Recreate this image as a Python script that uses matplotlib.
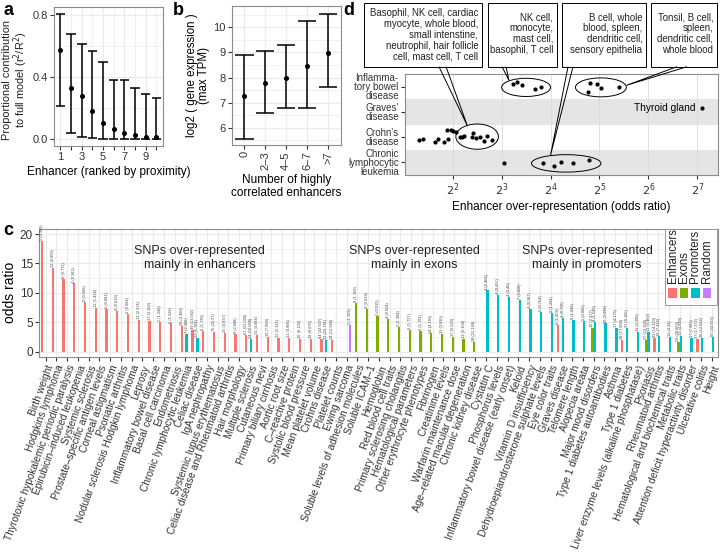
import numpy as np
import matplotlib.pyplot as plt
from matplotlib.patches import Ellipse, Rectangle, Polygon

plt.rcParams['font.family'] = ['Liberation Sans', 'DejaVu Sans']

# ---- panel a: contribution of enhancers ranked by proximity
rank = [1, 2, 3, 4, 5, 6, 7, 8, 9, 10]
contrib_mid = [0.574, 0.332, 0.280, 0.184, 0.105, 0.068, 0.038, 0.026, 0.017, 0.015]
contrib_low = [0.214, 0.043, 0.013, 0.006, 0.004, 0.001, 0.001, 0.001, 0.001, 0.001]
contrib_high = [0.806, 0.679, 0.615, 0.570, 0.495, 0.381, 0.383, 0.332, 0.289, 0.268]

# ---- panel b: expression vs number of correlated enhancers
n_groups = ['0', '2–3', '4–5', '6–7', '>7']
expr_mid = [7.26, 7.80, 7.99, 8.47, 8.97]
expr_low = [5.54, 6.60, 6.80, 6.77, 7.62]
expr_high = [8.91, 9.07, 9.30, 10.26, 10.53]

# ---- panel c: traits and odds ratios
traits = ['Birth weight', 'Hodgkins lymphoma', 'Thyrotoxic hypokalemic periodic paralysis',
          'Epirubicin–induced leukopenia', 'Systemic sclerosis', 'Prostate–specific antigen levels',
          'Corneal astigmatism', 'Psoriatic arthritis', 'Nodular sclerosis Hodgkin lymphoma',
          'Leprosy', 'Inflammatory bowel disease', 'Basal cell carcinoma', 'Endometriosis',
          'Chronic lymphocytic leukemia', 'Celiac disease', 'IgA nephropathy',
          'Systemic lupus erythematosus', 'Celiac disease and Rheumatoid arthritis',
          'Hair morphology', 'Multiple sclerosis', 'Cutaneous nevi', 'Primary biliary cirrhosis',
          'Aortic root size', 'C–reactive protein', 'Systolic blood pressure',
          'Mean platelet volume', 'Crohns disease', 'Platelet counts', 'Ewing sarcoma',
          'Soluble levels of adhesion molecules', 'Soluble ICAM–1', 'Hemoglobin',
          'Red blood cell traits', 'Primary sclerosing cholangitis', 'Hematological parameters',
          'Other erythrocyte phenotypes', 'Fibrinogen', 'Creatinine levels',
          'Warfarin maintenance dose', 'Age–related macular degeneration', 'Chronic kidney disease',
          'Cystatin C', 'Phosphorus levels', 'Inflammatory bowel disease (early onset)', 'Keloid',
          'Vitamin D insufficiency', 'Dehydroepiandrosterone sulphate levels', 'Eye color traits',
          'Graves disease', 'Telomere length', 'Alopecia areata', 'Major mood disorders',
          'Type 1 diabetes autoantibodies', 'Asthma', 'Type 1 diabetes',
          'Liver enzyme levels (alkaline phosphatase)', 'Psoriasis', 'Rheumatoid arthritis',
          'Hematological and biochemical traits', 'Metabolic traits',
          'Attention deficit hyperactivity disorder', 'Ulcerative colitis', 'Height']

enh_traits = traits[:28] + ['Graves disease', 'Type 1 diabetes', 'Rheumatoid arthritis', 'Ulcerative colitis']
enh_or = [18.8, 14.3, 12.3, 11.6, 8.5, 7.5, 7.3, 6.9, 6.4, 5.4, 5.3, 5.1, 4.8, 4.4, 3.7, 3.6,
          3.3, 3.2, 3.0, 2.9, 2.8, 2.55, 2.4, 2.35, 2.2, 2.15, 2.1, 2.0,
          4.5, 2.0, 2.4, 2.1]
enh_txt = ['5 (0.309)', '12 (0.859)', '6 (0.773)', '4 (0.361)', '9 (0.966)', '11 (1.418)',
           '5 (0.681)', '4 (0.616)', '6 (0.964)', '13 (2.374)', '17 (3.162)', '5 (1.248)',
           '6 (1.328)', '20 (4.480)', '49 (13.082)', '6 (1.736)', '75 (22.37)', '15 (4.837)',
           '9 (2.888)', '61 (21.326)', '11 (4.084)', '19 (7.968)', '12 (5.121)', '11 (4.806)',
           '16 (8.120)', '19 (8.675)', '64 (32.607)', '34 (13.946)',
           '6 (1.458)', '38 (17.868)', '33 (14.423)', '37 (17.372)']

exo_traits = traits[29:41] + ['Major mood disorders', 'Psoriasis', 'Metabolic traits']
exo_or = [8.3, 7.2, 6.1, 5.5, 4.25, 3.7, 3.57, 3.1, 3.0, 2.45, 2.2, 1.7, 4.0, 2.0, 1.7]
exo_txt = ['9 (1.109)', '4 (0.616)', '5 (0.915)', '4 (0.824)', '5 (1.384)', '6 (1.727)',
           '6 (1.781)', '14 (4.165)', '12 (3.830)', '17 (6.623)', '13 (6.104)', '28 (15.149)',
           '10 (2.477)', '27 (13.368)', '50 (28.683)']

pro_traits = ['Chronic lymphocytic leukemia', 'Celiac disease', 'Multiple sclerosis',
              'Crohns disease'] + traits[41:]
pro_or = [3.0, 2.3, 2.2, 2.0, 10.4, 9.6, 9.35, 8.8, 7.2, 6.8, 6.6, 5.7, 5.4, 5.3, 5.0, 4.8,
          4.1, 4.0, 3.4, 3.3, 2.6, 2.55, 2.7, 2.4, 2.4, 2.5]
pro_txt = ['7 (2.306)', '13 (5.704)', '24 (10.968)', '32 (16.781)', '4 (0.404)', '4 (0.437)',
           '4 (0.46)', '7 (0.820)', '4 (0.587)', '5 (0.754)', '8 (1.204)', '4 (0.729)',
           '9 (1.688)', '5 (0.966)', '8 (1.546)', '15 (3.096)', '17 (4.175)', '37 (9.185)',
           '11 (3.296)', '11 (3.462)', '19 (7.416)', '11 (4.33)', '13 (4.849)', '17 (7.883)',
           '30 (12.822)', '87 (34.655)']

rnd_traits = ['Ewing sarcoma']
rnd_or = [4.5]
rnd_txt = ['5 (1.193)']

groups = ['Enhancers', 'Exons', 'Promoters', 'Random']
group_colors = ['#F8766D', '#7CAE00', '#00BFC4', '#C77CFF']

# ---- panel d: odds ratios (log2) for tissue enhancers per disease
d_rows = ['Chronic\nlymphocytic\nleukemia', "Crohn's\ndisease", "Graves'\ndisease",
          'Inflamma-\ntory bowel\ndisease']
ibd_x = [3.24, 3.31, 3.41, 3.68, 3.80, 4.77, 4.81, 4.96, 5.03, 5.41]
ibd_y = [4.09, 4.18, 4.08, 3.92, 4.00, 3.80, 4.13, 4.09, 3.95, 3.98]
graves_x = [7.09]
graves_y = [3.14]
crohn_x = [1.31, 1.39, 1.63, 1.70, 1.83, 1.90, 1.89, 1.97, 2.01, 2.07, 2.14, 2.20, 2.23,
           2.39, 2.41, 2.47, 2.56, 2.63, 2.70, 2.81]
crohn_y = [1.89, 1.93, 1.79, 1.94, 1.82, 1.94, 2.27, 2.28, 2.24, 2.20, 2.02, 2.02, 2.04,
           2.02, 2.18, 1.98, 1.99, 1.85, 2.06, 1.87]
cll_x = [3.04, 3.85, 4.08, 4.21, 4.45, 4.79]
cll_y = [0.99, 0.99, 0.87, 1.00, 0.98, 1.09]

callouts = ['Basophil, NK cell, cardiac\nmyocyte, whole blood,\nsmall intenstine,\nneutrophil, hair follicle\ncell, mast cell, T cell',
            'NK cell,\nmonocyte,\nmast cell,\nbasophil, T cell',
            'B cell, whole\nblood, spleen,\ndendritic cell,\nsensory epithelia',
            'Tonsil, B cell,\nspleen,\ndendritic cell,\nwhole blood']
# ellipse (centre x, centre y, width, height) in panel d data units
rings = [(2.50, 2.02, 0.87, 1.0), (3.50, 3.97, 1.0, 0.72), (5.03, 3.97, 1.04, 0.75),
         (4.32, 0.96, 1.42, 0.69)]

W, H = 720, 557
fig = plt.figure(figsize=(7.2, 5.57), dpi=100)

grid_c = '#EBEBEB'
border_c = '#8C8C8C'
tick_c = '#333333'


def px_axes(l, t, r, b):
    return fig.add_axes([l / W, 1 - b / H, (r - l) / W, (b - t) / H])


def style(ax):
    for s in ax.spines.values():
        s.set_color(border_c)
        s.set_linewidth(0.8)
    ax.tick_params(colors=tick_c, labelcolor=tick_c, length=3, width=0.8, pad=1.5)
    ax.set_axisbelow(True)


# panel a
ax = px_axes(54, 6.7, 162.7, 146)
style(ax)
ax.set_xlim(0.4, 10.6)
ax.set_ylim(-0.043, 0.853)
for v in [0.2, 0.6]:
    ax.axhline(v, color=grid_c, lw=0.5, zorder=0)
for v in [0, 0.4, 0.8]:
    ax.axhline(v, color=grid_c, lw=0.9, zorder=0)
for v in rank:
    ax.axvline(v, color=grid_c, lw=0.9 if v % 2 else 0.5, zorder=0)
ax.vlines(rank, contrib_low, contrib_high, color='black', lw=1.1)
ax.hlines(contrib_low, np.array(rank) - 0.45, np.array(rank) + 0.45, color='black', lw=1.1)
ax.hlines(contrib_high, np.array(rank) - 0.45, np.array(rank) + 0.45, color='black', lw=1.1)
ax.plot(rank, contrib_mid, 'o', color='black', ms=2.6)
ax.set_xticks(rank)
ax.set_xticklabels([str(r) if r % 2 else '' for r in rank], fontsize=8)
ax.set_yticks([0, 0.4, 0.8])
ax.set_yticklabels(['0.0', '0.4', '0.8'], fontsize=8)
ax.set_xlabel('Enhancer (ranked by proximity)', fontsize=8.5, labelpad=3)
fig.text(1.5 / W, 1 - 80 / H, 'Proportional contribution\nto full model (r$^2$/R$^2$)',
         fontsize=7.9, rotation=90, ha='left', va='center', multialignment='center',
         linespacing=1.0, color='#222222')

# panel b
ax = px_axes(231.7, 6, 340.7, 145)
style(ax)
xb = np.arange(len(n_groups))
ax.set_xlim(-0.6, 4.6)
ax.set_ylim(5.31, 10.85)
for v in [5.5, 6.5, 7.5, 8.5, 9.5, 10.5]:
    ax.axhline(v, color=grid_c, lw=0.5, zorder=0)
for v in [6, 7, 8, 9, 10]:
    ax.axhline(v, color=grid_c, lw=0.9, zorder=0)
for v in xb:
    ax.axvline(v, color=grid_c, lw=0.9, zorder=0)
ax.vlines(xb, expr_low, expr_high, color='black', lw=1.1)
ax.hlines(expr_low, xb - 0.44, xb + 0.44, color='black', lw=1.1)
ax.hlines(expr_high, xb - 0.44, xb + 0.44, color='black', lw=1.1)
ax.plot(xb, expr_mid, 'o', color='black', ms=2.6)
ax.set_xticks(xb)
ax.set_xticklabels(n_groups, rotation=90, fontsize=8)
ax.set_yticks([6, 7, 8, 9, 10])
ax.set_yticklabels(['6', '7', '8', '9', '10'], fontsize=8)
ax.set_xlabel('Number of highly\ncorrelated enhancers', fontsize=8.5, labelpad=3, linespacing=1.1)
ax.set_ylabel('log2 ( gene expression )\n(max TPM)', fontsize=8.3, labelpad=2, linespacing=1.05)

# panel c
ax = px_axes(39.3, 229, 718.3, 356.7)
style(ax)
ax.set_xlim(-0.6, len(traits) - 0.4)
ax.set_ylim(-0.85, 20.85)
for v in np.arange(2.5, 20, 5):
    ax.axhline(v, color=grid_c, lw=0.5, zorder=0)
for v in range(0, 21, 5):
    ax.axhline(v, color=grid_c, lw=0.9, zorder=0)
for v in range(len(traits)):
    ax.axvline(v, color=grid_c, lw=0.9, zorder=0)
slot = 0.9 / 4
offs = [-1.5 * slot, -0.5 * slot, 0.5 * slot, 1.5 * slot]
for g, (tr, vals, txt) in enumerate([(enh_traits, enh_or, enh_txt), (exo_traits, exo_or, exo_txt),
                                      (pro_traits, pro_or, pro_txt), (rnd_traits, rnd_or, rnd_txt)]):
    xs = np.array([traits.index(t) for t in tr]) + offs[g]
    ax.bar(xs, vals, width=slot * 0.95, color=group_colors[g], zorder=2)
    for x, v, s in zip(xs, vals, txt):
        ax.text(x, v + 0.15, s, rotation=90, fontsize=2.8, ha='center', va='bottom',
                color='#444444', zorder=3)
ax.set_xticks(range(len(traits)))
ax.set_xticklabels(traits, rotation=70, ha='right', rotation_mode='anchor', fontsize=7.3)
ax.tick_params(axis='x', pad=2)
ax.set_yticks([0, 5, 10, 15, 20])
ax.set_yticklabels(['0', '5', '10', '15', '20'], fontsize=8.5)
ax.set_ylabel('odds ratio', fontsize=10, labelpad=2)
for xc, lab in [(14.3, 'enhancers'), (34.3, 'exons'), (50.4, 'promoters')]:
    ax.text(xc, 15.9, 'SNPs over-represented\nmainly in ' + lab, fontsize=9, ha='center',
            va='center', color='#222222', linespacing=1.15)
# legend drawn inside the panel, labels rotated like the original
ax.add_patch(Rectangle((0.9215, 0.405), 0.077, 0.594, transform=ax.transAxes,
                       facecolor='white', edgecolor='#999999', lw=0.7, zorder=4))
for i, (name, col) in enumerate(zip(groups, group_colors)):
    xf = 0.9326 + i * 0.0168
    ax.add_patch(Rectangle((xf - 0.0062, 0.458), 0.0124, 0.078, transform=ax.transAxes,
                           facecolor=col, edgecolor='none', zorder=5))
    ax.text(xf, 0.575, name, transform=ax.transAxes, rotation=90, fontsize=8.3,
            ha='center', va='bottom', zorder=5, color='#222222')

# panel d
ax = px_axes(405, 74, 718.3, 175)
style(ax)
ax.set_xlim(1.025, 7.43)
ax.set_ylim(0.5, 4.5)
for r in [1, 3]:
    ax.axhspan(r - 0.5, r + 0.5, color='#E5E5E5', lw=0, zorder=0)
for v in range(2, 8):
    ax.axvline(v, color='#DADADA', lw=0.6, zorder=0.5)
for xs, ys in [(ibd_x, ibd_y), (graves_x, graves_y), (crohn_x, crohn_y), (cll_x, cll_y)]:
    ax.plot(xs, ys, 'o', color='black', ms=2.0, zorder=3)
ax.text(graves_x[0] - 0.12, graves_y[0], 'Thyroid gland', fontsize=7.3, ha='right', va='center')
for cx, cy, w, h in rings:
    ax.add_patch(Ellipse((cx, cy), w, h, facecolor='none', edgecolor='black', lw=0.7, zorder=4))
ax.set_yticks([1, 2, 3, 4])
ax.set_yticklabels(d_rows, fontsize=7, linespacing=0.85)
ax.set_xticks(range(2, 8))
ax.set_xticklabels(['$2^{%d}$' % k for k in range(2, 8)], fontsize=8)
ax.set_xlabel('Enhancer over-representation (odds ratio)', fontsize=8.5, labelpad=2)

# callout boxes above panel d
boxes = [(364, 481.7), (488.3, 556.7), (561.7, 646), (650.7, 716.7)]
for (l, r), txt in zip(boxes, callouts):
    fig.patches.append(Rectangle((l / W, 1 - 66.7 / H), (r - l) / W, 64 / H,
                                 transform=fig.transFigure, facecolor='white',
                                 edgecolor='black', lw=0.7))
    fig.text((r - 3.5) / W, 1 - (8 if txt.count('\n') == 4 else 12) / H, txt, fontsize=6.9,
             ha='right', va='top', linespacing=1.12, color='#222222')
# wedges from boxes to rings (box bottom pixel x pair, ring target in data units)
links = [((439, 446), (2.30, 2.45)), ((502, 506), (3.15, 4.25)),
         ((568, 573), (4.00, 1.28)), ((677, 687), (5.55, 4.05))]
for (xa, xb2), (tx, ty) in links:
    dx, dy = ax.transData.transform((tx, ty))
    tip = (dx / W, dy / H)
    fig.patches.append(Polygon([(xa / W, 1 - 66.7 / H), tip, (xb2 / W, 1 - 66.7 / H)],
                               closed=False, transform=fig.transFigure, facecolor='none',
                               edgecolor='black', lw=0.7))

for lab, x, y in [('a', 3, 2), ('b', 173, 2), ('c', 3, 222), ('d', 343, 2)]:
    fig.text(x / W, 1 - y / H, lab, fontsize=13, fontweight='bold', ha='left', va='top')

fig.savefig('out.png', dpi=100)
